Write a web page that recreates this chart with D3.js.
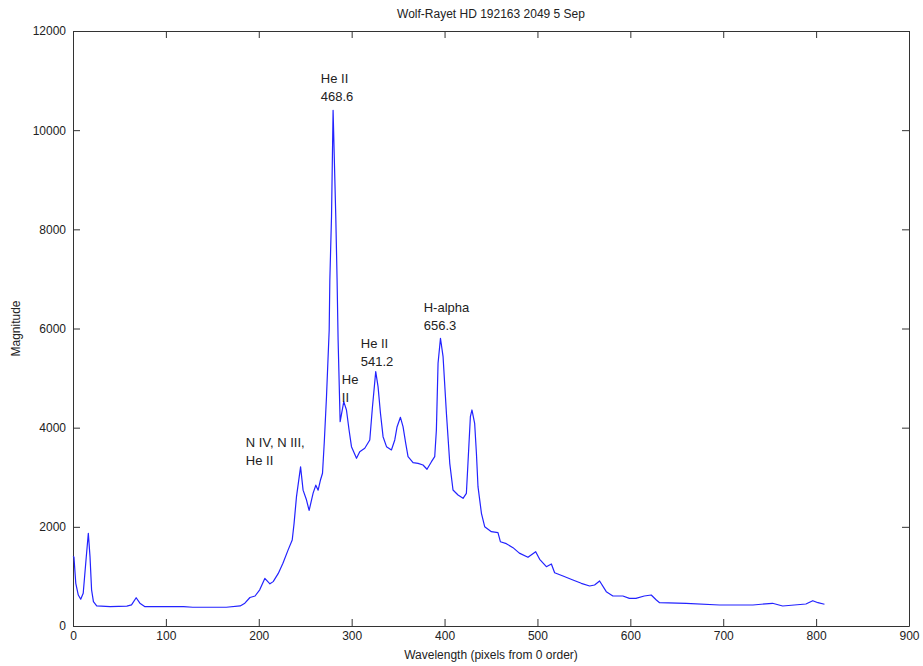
<!DOCTYPE html>
<html lang="en">
<head>
<meta charset="utf-8">
<title>Wolf-Rayet HD 192163</title>
<script src="https://cdn.jsdelivr.net/npm/d3@7"></script>
<style>
  body { margin: 0; background: #fff; }
  text { font-family: "Liberation Sans", Arial, sans-serif; fill: #222; }
  .axis path, .axis line { stroke: #333; }
  .axis text { font-size: 12px; fill: #222; }
</style>
</head>
<body>
<svg width="923" height="666"></svg>
<script>
// spectrum, pixel position vs magnitude
var pixels = [0, 1, 3, 5.7, 8.3, 11, 14, 16.5, 18.3, 20, 22, 25.5, 40, 58, 63, 68, 72, 77.5,
  94, 119, 129, 147, 165, 180, 185, 190.5, 196, 201, 206.5, 212, 215.5, 221, 226, 231.5,
  236, 238, 240.6, 245, 247.7, 251.4, 254.2, 258.5, 261.4, 263.9, 266.5, 268.6, 270.5,
  272.9, 275.8, 276.5, 278.3, 280, 282.9, 284.3, 285.4, 287.6, 291.5, 294.4, 297.2, 299.8,
  305.2, 308.7, 314.1, 319.5, 322.4, 325.9, 328.4, 331, 333.8, 337.5, 342.8, 346.4, 348.9,
  352.5, 355.3, 358.2, 360.7, 366.1, 371.5, 376.8, 381.1, 385.9, 389.4, 391.2, 393, 395.6,
  398.4, 402, 405.6, 409.1, 414.5, 419.9, 423.5, 425.2, 427.8, 429.5, 432.4, 434.3, 436,
  439.7, 443.2, 450.4, 457.5, 460.1, 466.5, 473.7, 480.5, 489.8, 498.1, 502.4, 509.6, 515,
  518.5, 527.5, 538.2, 547.2, 556.2, 561.5, 566.9, 574.1, 581.2, 592, 599, 606, 615, 622.5,
  628, 631.5, 660, 696, 732, 753, 764, 789, 796.4, 802, 809];
var magnitude = [1400, 1390, 860, 625, 540, 660, 1330, 1870, 1400, 730, 490, 405, 390, 400, 425, 570, 460, 390,
  390, 390, 378, 378, 378, 405, 460, 575, 605, 730, 960, 850, 895, 1060, 1265, 1530,
  1735, 2070, 2610, 3210, 2740, 2540, 2330, 2680, 2840, 2740, 2950, 3080, 3700,
  4625, 5970, 6980, 8256, 10400, 8256, 6980, 5770, 4120, 4524, 4357, 3953, 3617,
  3382, 3516, 3584, 3752, 4423, 5130, 4827, 4290, 3818, 3617, 3550, 3752, 4020,
  4209, 4020, 3685, 3415, 3294, 3281, 3247, 3161, 3314, 3415, 3953, 5299, 5803,
  5432, 4290, 3281, 2743, 2642, 2575, 2676, 3281, 4222, 4357, 4088, 3483, 2810,
  2273, 2003, 1902, 1882, 1700, 1660, 1580, 1470, 1386, 1499, 1345, 1196, 1251,
  1075, 1008, 928, 861, 807, 827, 908, 692, 605, 605, 558, 558, 605, 625,
  524, 470, 458, 424, 424, 458, 403, 444, 510, 470, 438];

// line labels, data coords of first line
var labelText = [["He II", "468.6"], ["N IV, N III,", "He II"], ["He", "II"], ["He II", "541.2"], ["H-alpha", "656.3"]];
var labelX = [266.8, 186.1, 289.4, 309.8, 377.6];
var labelY = [11010, 3670, 4940, 5670, 6390];

var xTicks = d3.range(0, 901, 100);
var yTicks = d3.range(0, 12001, 2000);

var margin = {top: 31, right: 14, bottom: 40, left: 73},
    width = 923 - margin.left - margin.right,
    height = 666 - margin.top - margin.bottom;

var x = d3.scaleLinear().domain([0, 900]).range([0, width]);
var y = d3.scaleLinear().domain([0, 12000]).range([height, 0]);

var svg = d3.select("svg");
var g = svg.append("g")
    .attr("transform", "translate(" + margin.left + "," + margin.top + ")");

// axes, ticks inside on all sides
g.append("g").attr("class", "axis")
    .attr("transform", "translate(0," + height + ")")
    .call(d3.axisBottom(x).tickValues(xTicks).tickSizeInner(-7).tickSizeOuter(0).tickPadding(5).tickFormat(d3.format("d")));
g.append("g").attr("class", "axis")
    .call(d3.axisTop(x).tickValues(xTicks).tickSizeInner(-7).tickSizeOuter(0).tickFormat(""));
g.append("g").attr("class", "axis")
    .call(d3.axisLeft(y).tickValues(yTicks).tickSizeInner(-7).tickSizeOuter(0).tickPadding(7).tickFormat(d3.format("d")));
g.append("g").attr("class", "axis")
    .attr("transform", "translate(" + width + ",0)")
    .call(d3.axisRight(y).tickValues(yTicks).tickSizeInner(-7).tickSizeOuter(0).tickFormat(""));

// spectrum line
var line = d3.line()
    .x(function(d, i) { return x(pixels[i]); })
    .y(function(d) { return y(d); });

g.append("path")
    .datum(magnitude)
    .attr("fill", "none")
    .attr("stroke", "#2323ff")
    .attr("stroke-width", 1.2)
    .attr("stroke-linejoin", "round")
    .attr("d", line);

// line annotations
labelText.forEach(function(lines, i) {
  var t = g.append("text")
      .attr("x", x(labelX[i]))
      .attr("y", y(labelY[i]))
      .attr("font-size", "13px")
      .attr("dominant-baseline", "middle");
  lines.forEach(function(s, j) {
    t.append("tspan").attr("x", x(labelX[i])).attr("dy", j ? 18 : 0).text(s);
  });
});

// title and axis labels
svg.append("text")
    .attr("x", margin.left + width / 2)
    .attr("y", 15)
    .attr("text-anchor", "middle")
    .attr("dominant-baseline", "middle")
    .attr("font-size", "12px")
    .text("Wolf-Rayet HD 192163 2049 5 Sep");

svg.append("text")
    .attr("x", margin.left + width / 2)
    .attr("y", 656)
    .attr("text-anchor", "middle")
    .attr("dominant-baseline", "middle")
    .attr("font-size", "12px")
    .text("Wavelength (pixels from 0 order)");

svg.append("text")
    .attr("transform", "translate(17," + (margin.top + height / 2) + ") rotate(-90)")
    .attr("text-anchor", "middle")
    .attr("dominant-baseline", "middle")
    .attr("font-size", "12px")
    .text("Magnitude");
</script>
</body>
</html>
